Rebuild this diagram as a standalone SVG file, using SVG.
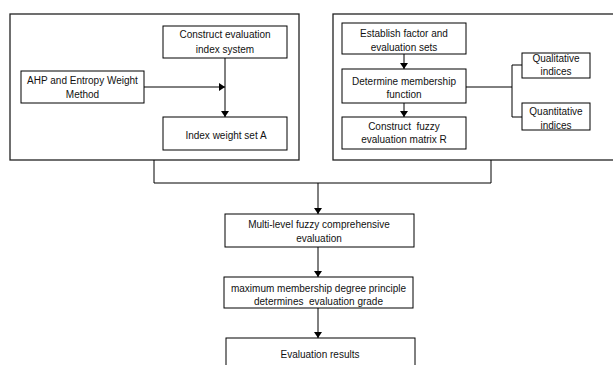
<svg xmlns="http://www.w3.org/2000/svg" width="613" height="365" viewBox="0 0 613 365">
<defs>
<marker id="ah" viewBox="0 0 10 10" refX="10" refY="5" markerWidth="6" markerHeight="8" markerUnits="userSpaceOnUse" orient="auto-start-reverse" preserveAspectRatio="none">
<path d="M0,0 L10,5 L0,10 z" fill="#000"/>
</marker>
<style>
.box{fill:#fff;stroke:#000;stroke-width:1}
.outer{fill:#fff;stroke:#222;stroke-width:1.3}
.ln{fill:none;stroke:#000;stroke-width:1}
text{font-family:"Liberation Sans",Arial,sans-serif;font-size:10px;fill:#111;text-anchor:middle;white-space:pre}
</style>
</defs>
<g id="outer-left"><rect class="outer" x="10" y="14" width="289" height="146"/></g>
<g id="outer-right"><rect class="outer" x="333" y="14" width="290" height="146"/></g>
<g id="construct-index"><rect class="box" x="163" y="26" width="124" height="32"/><text x="225" y="38">Construct evaluation</text><text x="225" y="52.5">index system</text></g>
<g id="ahp"><rect class="box" x="21" y="71" width="123" height="32"/><text x="82.5" y="84">AHP and Entropy Weight</text><text x="82.5" y="98">Method</text></g>
<g id="weight-set"><rect class="box" x="163" y="117" width="124" height="33"/><text x="226" y="139">Index weight set A</text></g>
<g id="establish"><rect class="box" x="342" y="23" width="124" height="31"/><text x="404" y="37">Establish factor and</text><text x="404" y="50.5">evaluation sets</text></g>
<g id="membership"><rect class="box" x="342" y="69" width="124" height="34"/><text x="404" y="84.5">Determine membership</text><text x="404" y="98">function</text></g>
<g id="matrix"><rect class="box" x="342" y="117" width="124" height="32"/><text x="404" y="130">Construct  fuzzy</text><text x="404" y="143">evaluation matrix R</text></g>
<g id="qualitative"><rect class="box" x="522" y="53" width="68" height="25"/><text x="556" y="62">Qualitative</text><text x="556" y="75">indices</text></g>
<g id="quantitative"><rect class="box" x="522" y="103" width="68" height="27"/><text x="556" y="115">Quantitative</text><text x="556" y="128.5">indices</text></g>
<g id="multilevel"><rect class="box" x="225" y="214" width="189" height="33"/><text x="319" y="227.5">Multi-level fuzzy comprehensive</text><text x="319" y="241.5">evaluation</text></g>
<g id="maxprinciple"><rect class="box" x="224" y="277" width="189" height="31"/><text x="318.5" y="292">maximum membership degree principle</text><text x="318.5" y="305">determines  evaluation grade</text></g>
<g id="results"><rect class="box" x="226" y="338" width="189" height="40"/><text x="320" y="358">Evaluation results</text></g>
<g id="connectors">
<path class="ln" d="M225,58 V117" marker-end="url(#ah)"/>
<path class="ln" d="M144,87 H225" marker-end="url(#ah)"/>
<path class="ln" d="M404,54 V69" marker-end="url(#ah)"/>
<path class="ln" d="M404,103 V117" marker-end="url(#ah)"/>
<path class="ln" d="M466,87 H512 M522,65 H512 V117 H522"/>
<path class="ln" d="M154,160 V183 H491 V160"/>
<path class="ln" d="M318,183 V214" marker-end="url(#ah)"/>
<path class="ln" d="M318,247 V277" marker-end="url(#ah)"/>
<path class="ln" d="M318,308 V338" marker-end="url(#ah)"/>
</g>
</svg>
